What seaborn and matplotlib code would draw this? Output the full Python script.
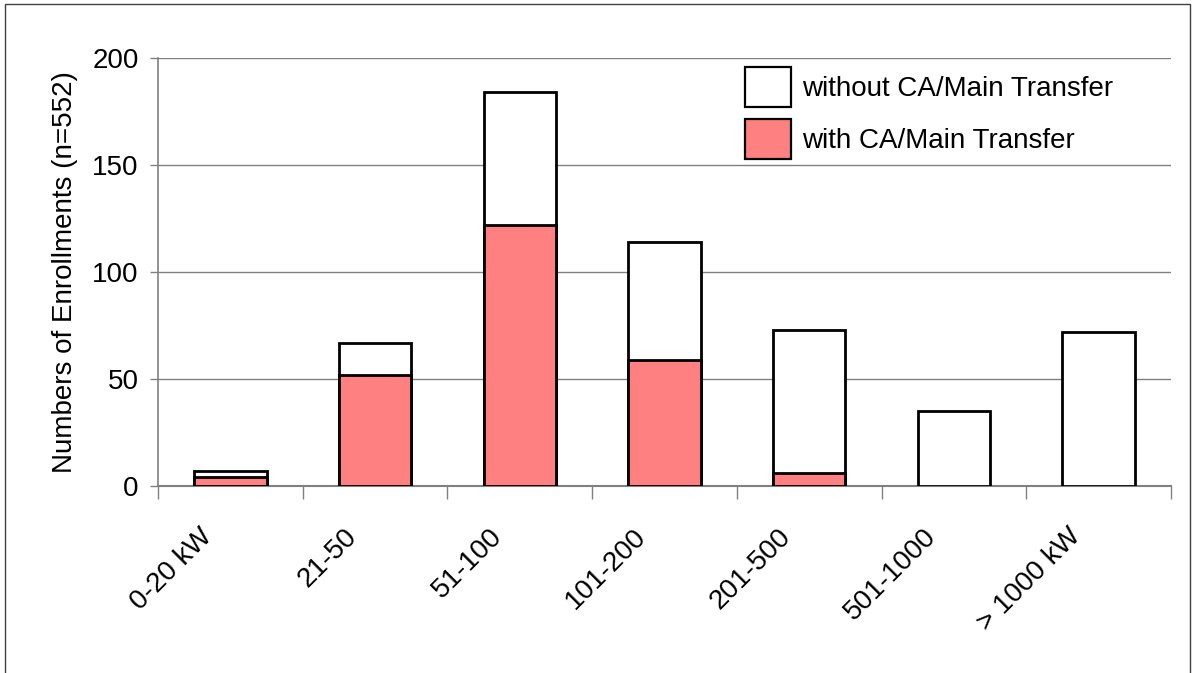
import matplotlib
matplotlib.use("Agg")
import matplotlib.pyplot as plt
from matplotlib.patches import Rectangle, Patch
from matplotlib.ticker import FixedLocator
from matplotlib.transforms import ScaledTranslation
import numpy as np
import pandas as pd
import seaborn as sns

categories = ["0-20 kW", "21-50", "51-100", "101-200", "201-500", "501-1000", "> 1000 kW"]
with_transfer = [4, 52, 122, 59, 6, 0, 0]
without_transfer = [3, 15, 62, 55, 67, 35, 72]
y_ticks = [0, 50, 100, 150, 200]

totals = [a + b for a, b in zip(with_transfer, without_transfer)]
df = pd.DataFrame({"category": categories, "total": totals, "with": with_transfer})

sns.set_theme(style="white")
plt.rcParams["font.family"] = ["Liberation Sans", "DejaVu Sans"]
plt.rcParams["text.color"] = "black"
plt.rcParams["axes.labelcolor"] = "black"
FS = 20

fig = plt.figure(figsize=(11.92, 6.73), dpi=100)
ax = fig.add_axes([0.1326, 0.2779, 0.9824 - 0.1326, 0.9138 - 0.2779])

red = "#FF8080"
sns.barplot(data=df, x="category", y="total", order=categories, color="white",
            edgecolor="black", linewidth=2.0, width=0.5, saturation=1, ax=ax, zorder=3)
sns.barplot(data=df, x="category", y="with", order=categories, color=red,
            edgecolor="black", linewidth=2.0, width=0.5, saturation=1, ax=ax, zorder=4)

# hide zero-height outlines so empty segments do not draw a flat line
for p in ax.patches:
    if p.get_height() == 0:
        p.set_visible(False)

ax.set_ylim(0, 200)
ax.set_xlim(-0.5, len(categories) - 0.5)
ax.set_yticks(y_ticks)
ax.set_yticklabels([str(t) for t in y_ticks], fontsize=FS)
ax.yaxis.grid(True, color="#808080", linewidth=1.0, zorder=0)
ax.set_axisbelow(True)

ax.set_xticks(range(len(categories)))
ax.set_xticklabels(categories, fontsize=FS, rotation=45, ha="right", va="center",
                   rotation_mode="anchor")
ax.xaxis.set_minor_locator(FixedLocator(np.arange(-0.5, len(categories), 1.0)))
ax.tick_params(axis="x", which="major", length=0, pad=30, labelcolor="black")
ax.tick_params(axis="x", which="minor", length=9, width=1.0, color="#808080",
               direction="out", bottom=True)
ax.tick_params(axis="y", which="major", length=6, width=1.0, color="#808080",
               direction="out", left=True, pad=8, labelcolor="black")

# nudge the slanted category labels so their ends sit just left of each bar centre
shift = ScaledTranslation(-22 / 100, -5 / 100, fig.dpi_scale_trans)
for lbl in ax.get_xticklabels():
    lbl.set_transform(lbl.get_transform() + shift)

ax.set_xlabel("")
ax.set_ylabel("Numbers of Enrollments (n=552)", fontsize=FS, labelpad=10)

for side in ["top", "right"]:
    ax.spines[side].set_visible(False)
ax.spines["left"].set_color("#808080")
ax.spines["left"].set_linewidth(1.2)
ax.spines["bottom"].set_color("#808080")
ax.spines["bottom"].set_linewidth(1.5)

handles = [Patch(facecolor="white", edgecolor="black", linewidth=1.6),
           Patch(facecolor=red, edgecolor="black", linewidth=1.6)]
leg = fig.legend(handles, ["without CA/Main Transfer", "with CA/Main Transfer"],
                 loc="upper left", bbox_to_anchor=(745 / 1192, 1 - 67 / 673),
                 bbox_transform=fig.transFigure, frameon=False,
                 fontsize=FS, handlelength=1.65, handleheight=1.84,
                 handletextpad=0.4, labelspacing=0.43, borderpad=0,
                 borderaxespad=0)

# outer frame of the chart area
fig.patches.append(Rectangle((5 / 1192, -0.05), (1190 - 5) / 1192, 1 - 4 / 673 + 0.05,
                             transform=fig.transFigure, fill=False,
                             edgecolor="#404040", linewidth=1.0))

fig.savefig("out.png", dpi=100)
